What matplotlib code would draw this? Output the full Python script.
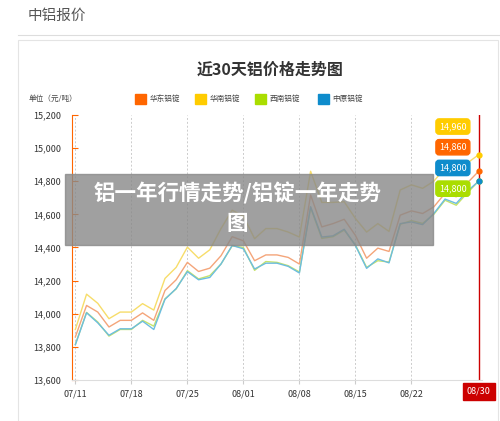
import matplotlib.pyplot as plt
from matplotlib.patches import Rectangle

plt.rcParams['font.family'] = ['Noto Sans CJK SC', 'DejaVu Sans']

# --- data (trading days 07/11 .. 08/30) ---
tick_pos = [0, 5, 10, 15, 20, 25, 30]
tick_labels = ['07/11', '07/18', '07/25', '08/01', '08/08', '08/15', '08/22']
last_label = '08/30'

zhongyuan = [13813, 14006, 13945, 13870, 13909, 13909, 13955, 13905, 14087, 14152,
             14254, 14205, 14219, 14300, 14412, 14392, 14270, 14305, 14305, 14286,
             14246, 14646, 14463, 14470, 14510, 14412, 14274, 14331, 14307, 14544,
             14554, 14538, 14605, 14692, 14666, 14740, 14800]
xinan = [13815, 14008, 13950, 13865, 13905, 13905, 13960, 13925, 14090, 14150,
         14260, 14210, 14230, 14300, 14410, 14400, 14262, 14315, 14310, 14290,
         14252, 14640, 14455, 14465, 14505, 14415, 14280, 14320, 14312, 14540,
         14562, 14545, 14600, 14685, 14655, 14730, 14800]
huadong = [13860, 14050, 14010, 13920, 13960, 13960, 14005, 13960, 14140, 14205,
           14310, 14255, 14275, 14350, 14465, 14440, 14320, 14355, 14355, 14340,
           14300, 14717, 14524, 14544, 14570, 14473, 14335, 14396, 14376, 14595,
           14621, 14605, 14645, 14727, 14706, 14790, 14860]
huanan = [13905, 14118, 14063, 13970, 14010, 14010, 14061, 14022, 14213, 14280,
          14402, 14335, 14386, 14514, 14625, 14588, 14453, 14514, 14514, 14493,
          14463, 14860, 14672, 14672, 14676, 14575, 14493, 14544, 14497, 14747,
          14778, 14757, 14800, 14880, 14870, 14910, 14960]

series = [('华东铝锭', huadong, '#ff6600', '#f4a57a'),
          ('华南铝锭', huanan, '#ffcc00', '#f7dd6a'),
          ('西南铝锭', xinan, '#aadd00', '#c6e36a'),
          ('中原铝锭', zhongyuan, '#0e8ccc', '#6cbde0')]

fig = plt.figure(figsize=(5, 4.21), dpi=100, facecolor='white')

# page header
fig.text(0.056, 0.962, '中铝报价', fontsize=10.5, color='#555555', va='center')
fig.add_artist(plt.Line2D([0.036, 1.0], [0.918, 0.918], color='#dddddd', lw=0.8))
fig.add_artist(Rectangle((0.036, 0.0), 0.96, 0.905, fill=False, ec='#e4e4e4', lw=0.8))
fig.text(0.54, 0.835, '近30天铝价格走势图', fontsize=11.5, fontweight='bold', ha='center', va='center', color='#333333')
fig.text(0.058, 0.765, '单位（元/吨）', fontsize=5.5, color='#444444', va='center')

# legend
lx = [0.27, 0.39, 0.51, 0.635]
for (name, _, c, _), x in zip(series, lx):
    fig.add_artist(Rectangle((x, 0.753), 0.022, 0.024, color=c))
    fig.text(x + 0.03, 0.765, name, fontsize=5.5, color='#444444', va='center')

ax = fig.add_axes([0.144, 0.0974, 0.82, 0.6296])
for name, vals, c, lc in series:
    ax.plot(range(len(vals)), vals, color=lc, lw=1.0)

ax.set_xlim(-0.3, 36.3)
ax.set_ylim(13600, 15200)
ax.set_yticks(range(13600, 15201, 200))
ax.set_yticklabels([f'{v:,}' for v in range(13600, 15201, 200)], fontsize=6.5, color='#333333')
ax.set_xticks(tick_pos)
ax.set_xticklabels(tick_labels, fontsize=6.5, color='#333333')
ax.grid(axis='x', color='#cccccc', ls=(0, (2, 2)), lw=0.7)
for s in ['top', 'right']:
    ax.spines[s].set_visible(False)
ax.spines['left'].set_color('#ff6600')
ax.spines['bottom'].set_color('#dddddd')
ax.tick_params(axis='y', colors='#ff6600', labelcolor='#333333', length=4, direction='in', pad=8)
ax.tick_params(axis='x', colors='#cccccc', labelcolor='#333333', length=3)

# right red marker line
ax.axvline(36, color='#cc0000', lw=1)
for name, vals, c, lc in series:
    ax.plot(36, vals[-1], 'o', color=c, ms=3.5)
ax.text(36, 13560, last_label, fontsize=6.5, color='white', ha='center', va='top',
        bbox=dict(boxstyle='square,pad=0.45', fc='#cc0000', ec='#cc0000'), clip_on=False)

# value badges
badges = [(huanan[-1], '#ffcc00', 15130), (huadong[-1], '#ff6600', 15005),
          (zhongyuan[-1], '#0e8ccc', 14880), (xinan[-1], '#aadd00', 14755)]
for v, c, y in badges:
    ax.text(33.7, y, f'{v:,}', fontsize=6.5, color='white', ha='center', va='center',
            bbox=dict(boxstyle='round,pad=0.35', fc=c, ec=c))

# overlay caption
fig.add_artist(Rectangle((0.13, 0.418), 0.735, 0.168, color='#888888', alpha=0.8))
fig.text(0.475, 0.54, '铝一年行情走势/铝锭一年走势', fontsize=15.5, fontweight='bold', color='white', ha='center', va='center')
fig.text(0.475, 0.468, '图', fontsize=15.5, fontweight='bold', color='white', ha='center', va='center')

fig.savefig('out.png', dpi=100)
